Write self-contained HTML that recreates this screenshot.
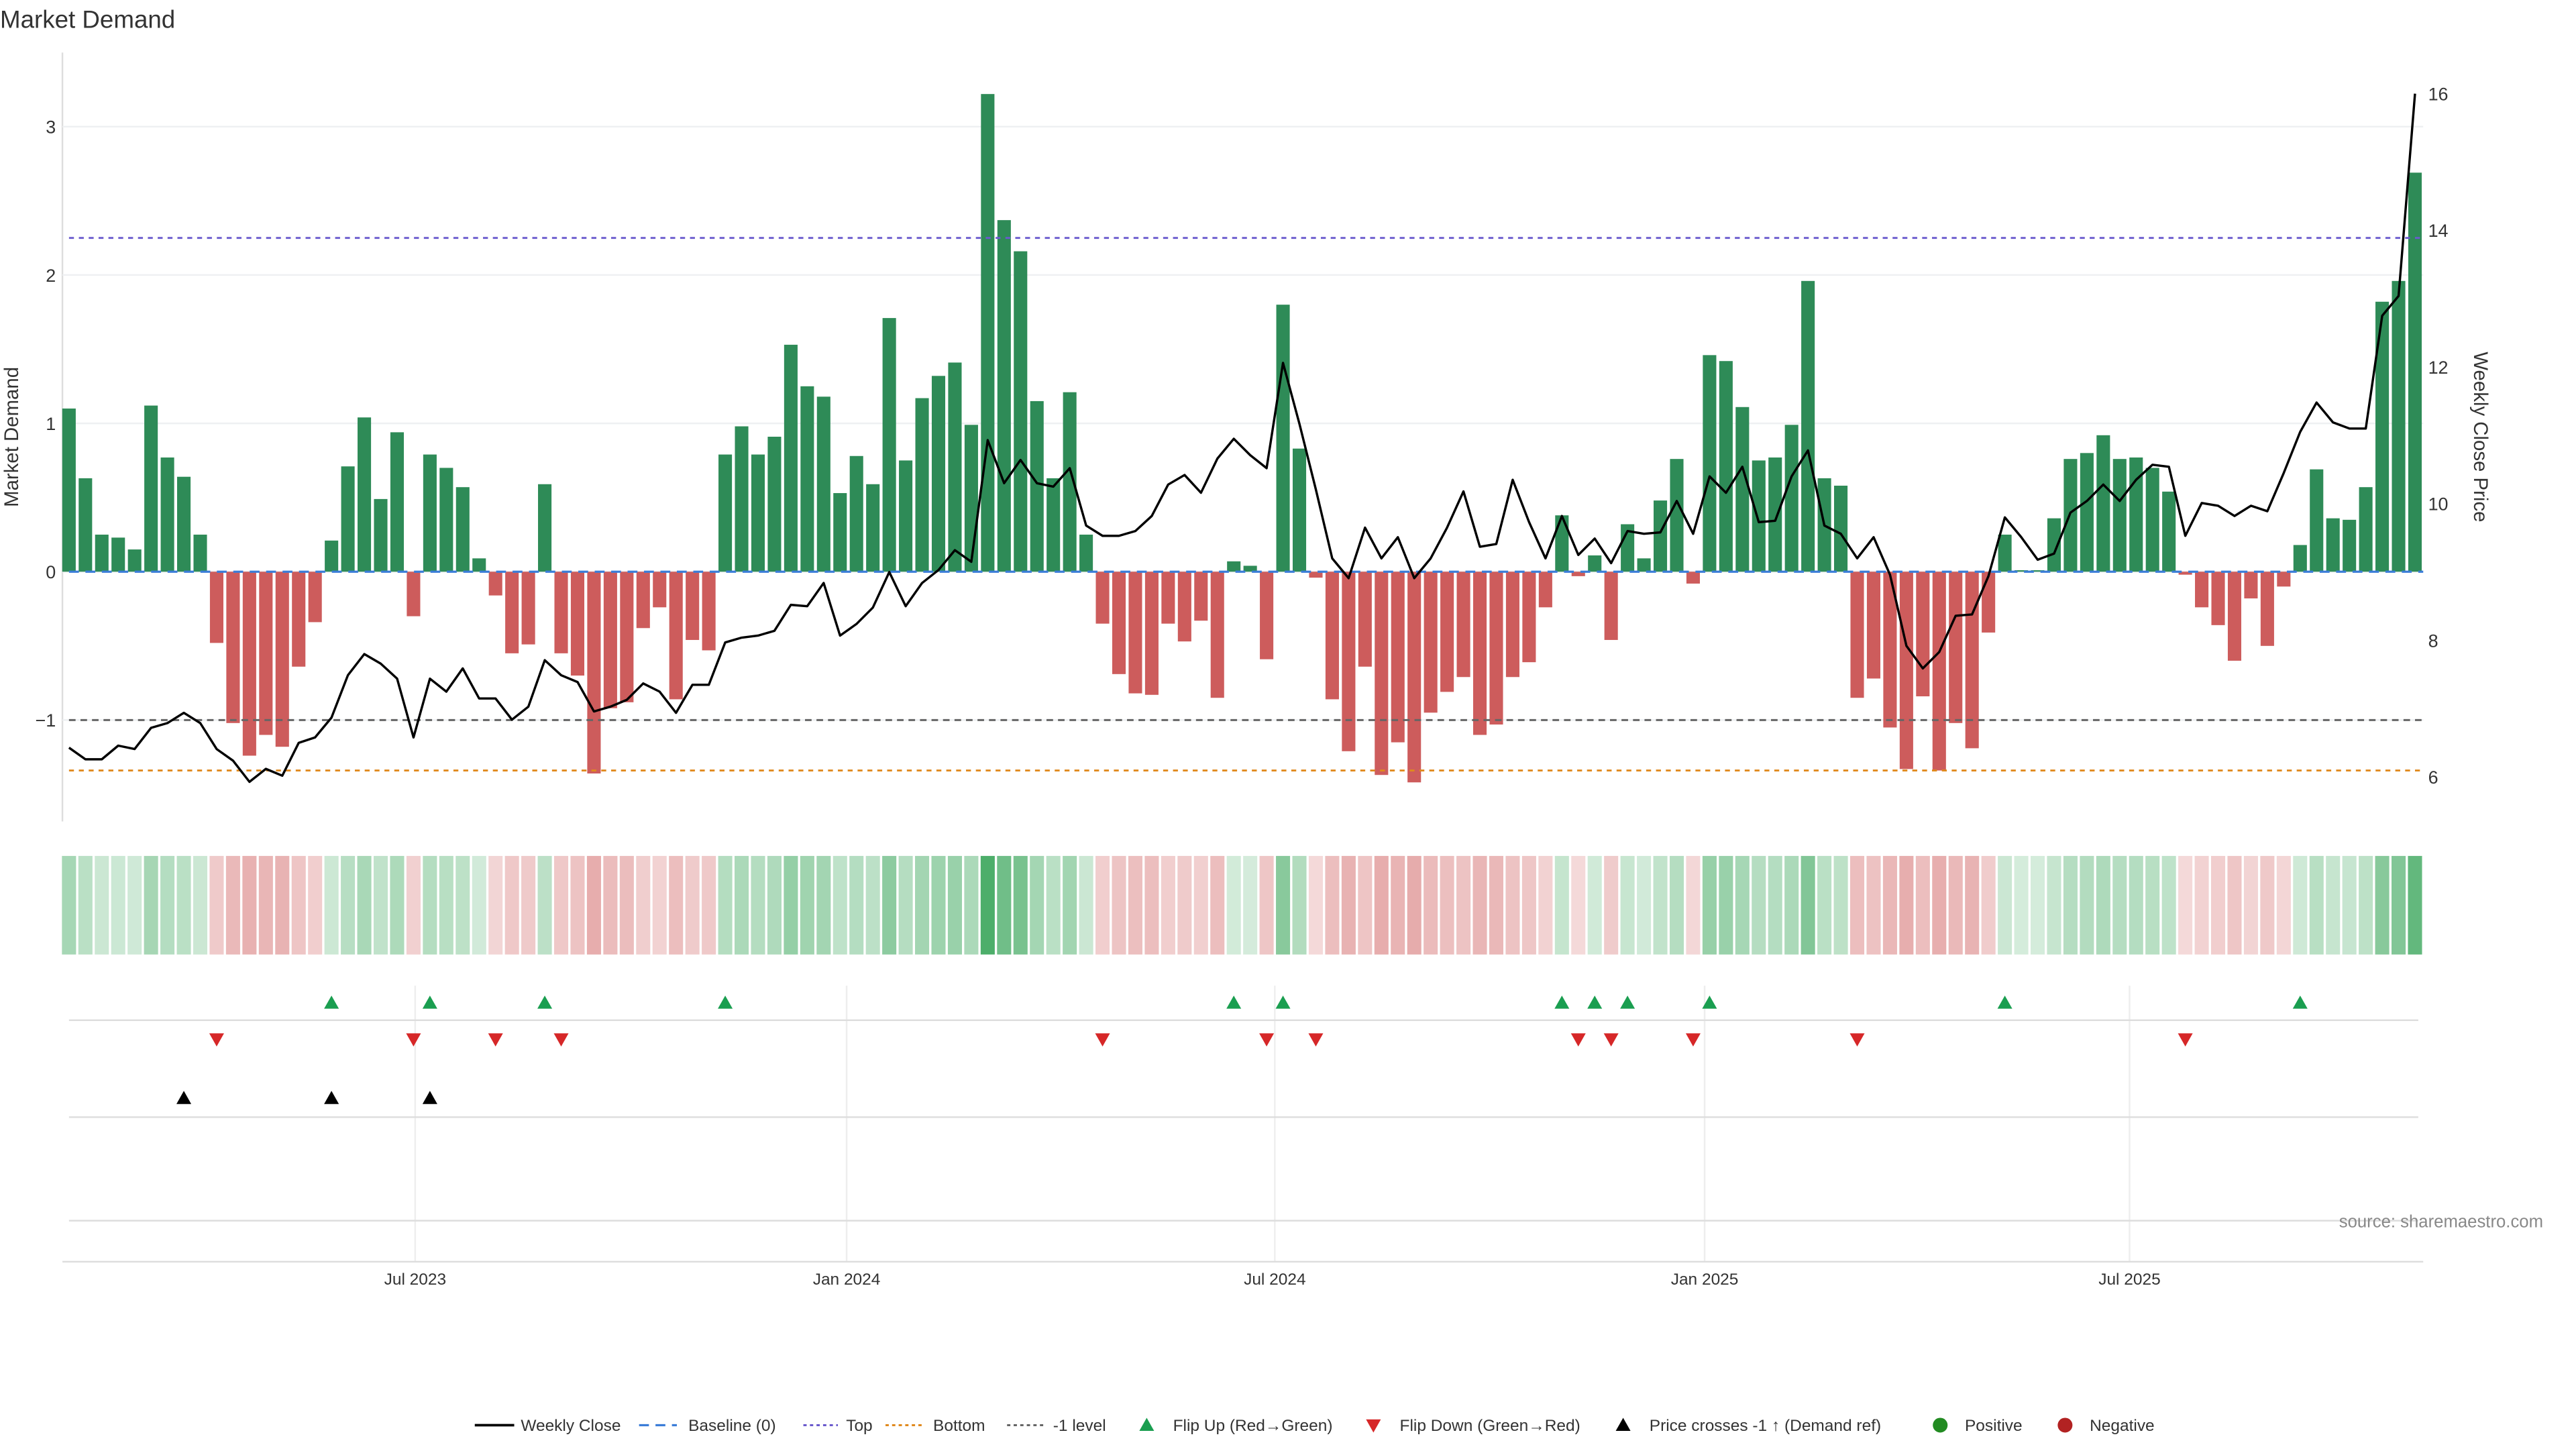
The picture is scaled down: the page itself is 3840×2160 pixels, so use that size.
<!DOCTYPE html>
<html><head><meta charset="utf-8"><style>
html,body{margin:0;padding:0;background:#fff;}
svg{display:block;font-family:"Liberation Sans","DejaVu Sans",sans-serif;}
</style></head><body>
<svg id="chart" width="3840" height="2160" viewBox="0 0 1568 882" xmlns="http://www.w3.org/2000/svg">
<text x="0" y="17" font-size="15" fill="#333">Market Demand</text>
<g id="main"></g>
</svg>
<script>
const demand=[1.10,0.63,0.25,0.23,0.15,1.12,0.77,0.64,0.25,-0.48,-1.02,-1.24,-1.10,-1.18,-0.64,-0.34,0.21,0.71,1.04,0.49,0.94,-0.30,0.79,0.70,0.57,0.09,-0.16,-0.55,-0.49,0.59,-0.55,-0.70,-1.36,-0.92,-0.88,-0.38,-0.24,-0.86,-0.46,-0.53,0.79,0.98,0.79,0.91,1.53,1.25,1.18,0.53,0.78,0.59,1.71,0.75,1.17,1.32,1.41,0.99,3.22,2.37,2.16,1.15,0.63,1.21,0.25,-0.35,-0.69,-0.82,-0.83,-0.35,-0.47,-0.33,-0.85,0.07,0.04,-0.59,1.80,0.83,-0.04,-0.86,-1.21,-0.64,-1.37,-1.15,-1.42,-0.95,-0.81,-0.71,-1.10,-1.03,-0.71,-0.61,-0.24,0.38,-0.03,0.11,-0.46,0.32,0.09,0.48,0.76,-0.08,1.46,1.42,1.11,0.75,0.77,0.99,1.96,0.63,0.58,-0.85,-0.72,-1.05,-1.33,-0.84,-1.34,-1.02,-1.19,-0.41,0.25,0.01,0.01,0.36,0.76,0.80,0.92,0.76,0.77,0.70,0.54,-0.02,-0.24,-0.36,-0.60,-0.18,-0.50,-0.10,0.18,0.69,0.36,0.35,0.57,1.82,1.96,2.69];
const price=[6.43,6.26,6.26,6.46,6.41,6.72,6.79,6.94,6.79,6.41,6.24,5.93,6.12,6.02,6.50,6.58,6.87,7.49,7.80,7.66,7.44,6.58,7.44,7.25,7.59,7.15,7.15,6.84,7.03,7.71,7.49,7.39,6.96,7.03,7.13,7.37,7.25,6.94,7.35,7.35,7.97,8.04,8.07,8.14,8.52,8.50,8.84,8.07,8.24,8.48,9.00,8.50,8.84,9.03,9.32,9.15,10.93,10.30,10.64,10.30,10.25,10.52,9.68,9.53,9.53,9.60,9.82,10.28,10.42,10.16,10.66,10.95,10.71,10.52,12.06,11.17,10.21,9.20,8.91,9.65,9.20,9.51,8.91,9.20,9.65,10.18,9.37,9.41,10.35,9.73,9.20,9.82,9.25,9.49,9.13,9.60,9.56,9.58,10.04,9.56,10.40,10.16,10.54,9.73,9.75,10.40,10.78,9.68,9.56,9.20,9.51,8.96,7.92,7.59,7.83,8.36,8.38,8.94,9.80,9.51,9.18,9.27,9.87,10.04,10.28,10.04,10.35,10.57,10.54,9.53,10.01,9.97,9.82,9.97,9.89,10.45,11.05,11.48,11.19,11.10,11.10,12.75,13.04,16.00];
const leftTicks=[3,2,1,0,-1];
const rightTicks=[16,14,12,10,8,6];
const monthLabels=["Jul 2023","Jan 2024","Jul 2024","Jan 2025","Jul 2025"];
const monthIndex=[21.1,47.4,73.5,99.7,125.6];
const priceCrossIdx=[7,16,22];
const topLevel=2.25, bottomLevel=-1.34, minusLevel=-1;

const NS="http://www.w3.org/2000/svg";
const g=document.getElementById('main');
function el(t,a,parent){const e=document.createElementNS(NS,t);for(const k in a)e.setAttribute(k,a[k]);(parent||g).appendChild(e);return e;}
const xS=i=>42+i*9.986;
const yL=v=>348-v*90.3;
const yR=p=>473-(p-6)*41.6;

let e;
e=el('line',{x1:38,y1:32,x2:38,y2:500,stroke:'#ddd','stroke-width':1});


leftTicks.forEach(v=>{
  e=el('line',{x1:38,x2:1475,y1:yL(v),y2:yL(v),stroke:'#eef0f2','stroke-width':1});
  
  
  e=el('text',{x:34,y:yL(v)+4,'font-size':11,fill:'#333','text-anchor':'end'});
  e.textContent=v<0?'\u2212'+Math.abs(v):String(v);
  
  
});
rightTicks.forEach(p=>{
  e=el('text',{x:1478,y:yR(p)+4,'font-size':11,fill:'#333'});
  e.textContent=String(p);
  
  
});
e=el('text',{x:11,y:266,'font-size':12,fill:'#333','text-anchor':'middle',transform:'rotate(-90 11 266)'});
e.textContent='Market Demand';


e=el('text',{x:1506,y:266,'font-size':12,fill:'#333','text-anchor':'middle',transform:'rotate(90 1506 266)'});
e.textContent='Weekly Close Price';



demand.forEach((v,i)=>{
  const y0=yL(0),y1=yL(v);
  e=el('rect',{x:xS(i)-4.1,y:Math.min(y0,y1),width:8.2,height:Math.max(0.5,Math.abs(y1-y0)),fill:v>=0?'#2e8b57':'#cd5c5c'});
  
  
});
e=el('line',{x1:42,x2:1475,y1:yL(0),y2:yL(0),stroke:'#3b7dd8','stroke-width':1.3,'stroke-dasharray':'6 4'});


e=el('line',{x1:42,x2:1475,y1:yL(topLevel),y2:yL(topLevel),stroke:'#6a5acd','stroke-width':1.2,'stroke-dasharray':'3 3'});


e=el('line',{x1:42,x2:1475,y1:yL(bottomLevel),y2:yL(bottomLevel),stroke:'#e08a1e','stroke-width':1.2,'stroke-dasharray':'3 3'});


e=el('line',{x1:42,x2:1475,y1:yL(minusLevel),y2:yL(minusLevel),stroke:'#666','stroke-width':1.2,'stroke-dasharray':'4 3'});


e=el('polyline',{points:price.map((p,i)=>xS(i)+','+yR(p)).join(' '),fill:'none',stroke:'#000','stroke-width':1.4,'stroke-linejoin':'round'});



demand.forEach((v,i)=>{
  const a=Math.abs(v);
  const fill=v>=0?'rgba(46,160,80,'+(0.2+0.65*Math.min(a/3.2,1)).toFixed(3)+')':'rgba(200,70,70,'+(0.2+0.25*Math.min(a/1.4,1)).toFixed(3)+')';
  e=el('rect',{x:xS(i)-4.3,y:521,width:8.6,height:60,fill:fill});
  
  
});

monthIndex.forEach((mi,k)=>{
  const x=xS(mi);
  e=el('line',{x1:x,x2:x,y1:600,y2:768,stroke:'#eee','stroke-width':1});
  
  
  e=el('text',{x:x,y:782,'font-size':10,fill:'#333','text-anchor':'middle'});
  e.textContent=monthLabels[k];
  
  
});
[621,680,743].forEach(y=>{
  e=el('line',{x1:42,x2:1472,y1:y,y2:y,stroke:'#ddd','stroke-width':1});
  
  
});
e=el('line',{x1:38,x2:1475,y1:768,y2:768,stroke:'#ddd','stroke-width':1});


function tri(x,y,up,color){return el('polygon',{points:up?`${x-4.5},${y+4} ${x+4.5},${y+4} ${x},${y-4}`:`${x-4.5},${y-4} ${x+4.5},${y-4} ${x},${y+4}`,fill:color});}
for(let i=1;i<demand.length;i++){
  if(demand[i-1]<0&&demand[i]>=0){e=tri(xS(i),610,true,'#1a9e50');
    
    }
  if(demand[i-1]>=0&&demand[i]<0){e=tri(xS(i),633,false,'#d62728');
    
    }
}
priceCrossIdx.forEach(i=>{
  e=tri(xS(i),668,true,'#000');
  
  
});
e=el('text',{x:1548,y:747,'font-size':10.5,fill:'#888','text-anchor':'end'});
e.textContent='source: sharemaestro.com';



const lg=el('g',{'font-size':10,fill:'#333'});


function ltext(x,s,name){const t=el('text',{x:x,y:871},lg);t.textContent=s;
  
  }
function lline(x1,x2,c,d,w){el('line',{x1:x1,x2:x2,y1:867.5,y2:867.5,stroke:c,'stroke-width':w,'stroke-dasharray':d},lg);}
lline(289,313,'#000','',1.5); ltext(317,'Weekly Close','legend-weekly-close');
lline(389,412,'#3b7dd8','6 4',1.3); ltext(419,'Baseline (0)','legend-baseline');
lline(489,510,'#6a5acd','2 2',1.2); ltext(515,'Top','legend-top');
lline(539,563,'#e08a1e','2 2',1.2); ltext(568,'Bottom','legend-bottom');
lline(613,636,'#666','2 2',1.2); ltext(641,'-1 level','legend-minus-one');
lg.appendChild(tri(698,867,true,'#1a9e50')); ltext(714,'Flip Up (Red\u2192Green)','legend-flip-up');
lg.appendChild(tri(836,868,false,'#d62728')); ltext(852,'Flip Down (Green\u2192Red)','legend-flip-down');
lg.appendChild(tri(988,867,true,'#000')); ltext(1004,'Price crosses -1 \u2191 (Demand ref)','legend-price-cross');
el('circle',{cx:1181,cy:867.5,r:4.5,fill:'#228b22'},lg); ltext(1196,'Positive','legend-positive');
el('circle',{cx:1257,cy:867.5,r:4.5,fill:'#b22222'},lg); ltext(1272,'Negative','legend-negative');
</script>
</body></html>
